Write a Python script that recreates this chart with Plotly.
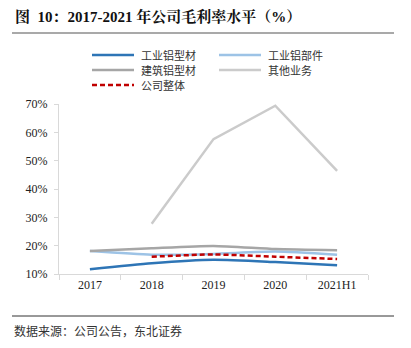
import plotly.graph_objects as go

categories = ["2017", "2018", "2019", "2020", "2021H1"]
ind_profile = [11.7, 13.8, 15.0, 14.2, 13.1]      # 工业铝型材
ind_parts = [18.1, 16.8, 17.1, 17.9, 16.8]        # 工业铝部件
build_profile = [18.1, 19.1, 19.9, 18.8, 18.4]    # 建筑铝型材
other_biz = [None, 27.7, 57.6, 69.4, 46.4]        # 其他业务
company = [None, 16.1, 16.9, 16.1, 15.3]          # 公司整体
y_ticks = [10, 20, 30, 40, 50, 60, 70]
y_ticklabels = [f"{v}%" for v in y_ticks]

W, H = 411, 348
L, R, T, B = 59, 368, 104, 274

def px(x):
    return (x - L) / (R - L)

def py(y):
    return (B - y) / (B - T)

serif = "Liberation Serif, Noto Serif CJK SC, Noto Sans CJK SC, serif"
cjk = "Noto Sans CJK SC, sans-serif"

fig = go.Figure()
series = [
    ("工业铝型材", ind_profile, "#2E75B6", "solid", "spline"),
    ("工业铝部件", ind_parts, "#9DC3E6", "solid", "spline"),
    ("建筑铝型材", build_profile, "#A6A6A6", "solid", "spline"),
    ("其他业务", other_biz, "#CBCBCB", "solid", "linear"),
    ("公司整体", company, "#C00000", "5px,3px", "spline"),
]
for name, vals, color, dash, shape in series:
    fig.add_trace(go.Scatter(
        x=categories, y=vals, name=name, mode="lines",
        line=dict(color=color, width=2.5, dash=dash, shape=shape, smoothing=0.6),
        connectgaps=False, showlegend=False,
    ))

# manual legend (2 columns, 3 rows)
leg_pos = [(92, 55), (219, 55), (92, 70), (219, 70), (92, 85)]
for (name, vals, color, dash, shape), (lx, ly) in zip(series, leg_pos):
    fig.add_shape(type="line", xref="paper", yref="paper",
                  x0=px(lx), x1=px(lx + 42), y0=py(ly), y1=py(ly),
                  line=dict(color=color, width=2.5, dash=dash))
    fig.add_annotation(text=name, xref="paper", yref="paper",
                       x=px(lx + 47), y=py(ly), xanchor="left", yanchor="middle",
                       showarrow=False,
                       font=dict(family=cjk, size=11, color="#333"))

fig.update_layout(
    width=W, height=H,
    margin=dict(l=L, r=W - R, t=T, b=H - B, autoexpand=False),
    paper_bgcolor="white", plot_bgcolor="white",
    font=dict(family=serif, size=11, color="#222"),
    showlegend=False,
    xaxis=dict(
        showline=True, linecolor="#D9D9D9", linewidth=1,
        ticks="outside", tickson="boundaries", ticklen=5, tickcolor="#D9D9D9",
        showgrid=False, tickfont=dict(family=serif, size=12, color="#222"),
        range=[-0.5, 4.5],
    ),
    yaxis=dict(
        range=[10, 70], tickvals=y_ticks, ticktext=y_ticklabels,
        showline=True, linecolor="#D9D9D9", linewidth=1,
        ticks="outside", ticklen=4, tickcolor="#D9D9D9",
        ticklabelstandoff=4,
        showgrid=False, zeroline=False,
        tickfont=dict(family=serif, size=12, color="#222"),
    ),
)

fig.add_annotation(
    text="<b>图  10：2017-2021 年公司毛利率水平（%）</b>",
    xref="paper", yref="paper", x=px(13), y=py(16),
    xanchor="left", yanchor="middle", showarrow=False,
    font=dict(family=serif, size=15, color="#111"),
)
fig.add_annotation(
    text="数据来源：公司公告，东北证券",
    xref="paper", yref="paper", x=px(12), y=py(330),
    xanchor="left", yanchor="middle", showarrow=False,
    font=dict(family=cjk, size=12, color="#333"),
)
fig.add_shape(type="line", xref="paper", yref="paper",
              x0=px(12), x1=px(394), y0=py(33), y1=py(33),
              line=dict(color="#8C8C8C", width=1.5))
fig.add_shape(type="line", xref="paper", yref="paper",
              x0=px(12), x1=px(394), y0=py(316), y1=py(316),
              line=dict(color="#333333", width=1))

fig.write_html("out.html")
